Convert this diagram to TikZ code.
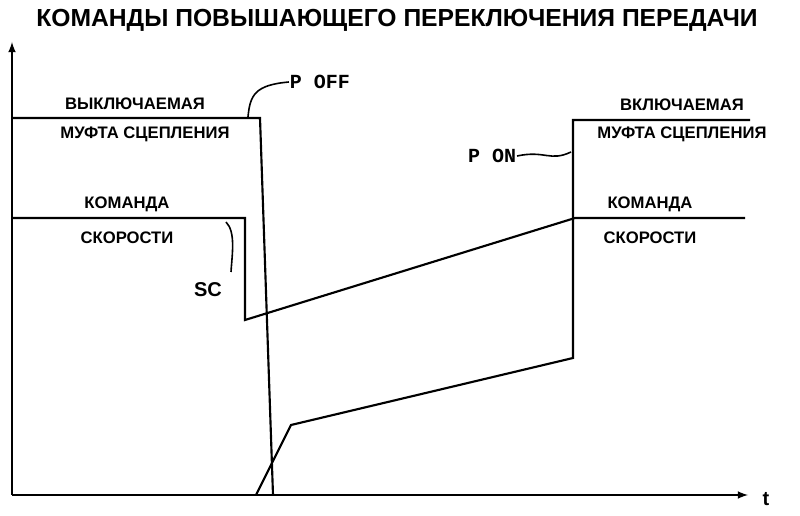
\documentclass[tikz,border=0pt]{standalone}
\usepackage{fontspec}
\setmainfont{Liberation Sans}
\newfontfamily\monob{Liberation Mono}
\begin{document}
\begin{tikzpicture}[x=0.75pt,y=-0.75pt,line width=1.6pt,
  lbl/.style={font=\bfseries\fontsize{12.5}{14}\selectfont,inner sep=0pt},
  big/.style={font=\bfseries\fontsize{15}{17}\selectfont,inner sep=0pt},
  mono/.style={font=\monob\bfseries\fontsize{15}{17}\selectfont,inner sep=0pt},
  lead/.style={line width=1.2pt}]
\useasboundingbox (0,0) rectangle (800,516);
\node[font=\bfseries\fontsize{18.5}{20}\selectfont,inner sep=0pt] (title) at (397,20) {КОМАНДЫ ПОВЫШАЮЩЕГО ПЕРЕКЛЮЧЕНИЯ ПЕРЕДАЧИ};
% axes
\coordinate (o) at (12,495);
\coordinate (ytop) at (12,42);
\coordinate (xend) at (748,495);
\draw[-latex] (o) -- (ytop);
\draw[-latex] (o) -- (xend);
\node[big] (t) at (766,499) {t};
% off-going clutch
\coordinate (a1) at (12,118);
\coordinate (a2) at (260,118);
\coordinate (a3) at (273,495);
\draw (a1) -- (a2) -- (a3);
\node[lbl] (voff1) at (135,104) {ВЫКЛЮЧАЕМАЯ};
\node[lbl] (voff2) at (145,134) {МУФТА СЦЕПЛЕНИЯ};
\node[mono] (poff) at (320,82) {P OFF};
\coordinate (pl1) at (248,117);
\draw[lead] (pl1) .. controls (250,95) and (255,85) .. (poff.west);
% speed command
\coordinate (s1) at (12,218);
\coordinate (s2) at (245,218);
\coordinate (s3) at (245,320);
\coordinate (s4) at (575,218);
\coordinate (s5) at (745,218);
\draw (s1) -- (s2) -- (s3) -- (s4) -- (s5);
\node[lbl] (k1) at (127,204) {КОМАНДА};
\node[lbl] (k2) at (127,238) {СКОРОСТИ};
\node[lbl] (k3) at (650,204) {КОМАНДА};
\node[lbl] (k4) at (650,238) {СКОРОСТИ};
\node[big] (sc) at (208,290) {SC};
\coordinate (sl) at (226,222);
\draw[lead] (sl) .. controls (236,232) and (232,255) .. (231,272);
% on-coming clutch
\coordinate (c1) at (256,495);
\coordinate (c2) at (291,425);
\coordinate (c3) at (573,358);
\coordinate (c4) at (573,120);
\coordinate (c5) at (750,120);
\draw (c1) -- (c2) -- (c3) -- (c4) -- (c5);
\node[lbl] (von1) at (682,105) {ВКЛЮЧАЕМАЯ};
\node[lbl] (von2) at (682,134) {МУФТА СЦЕПЛЕНИЯ};
\node[mono] (pon) at (492,156) {P ON};
\coordinate (pn) at (571,152);
\draw[lead] (pon.east) .. controls (545,150) and (550,162) .. (pn);
\end{tikzpicture}
\end{document}
